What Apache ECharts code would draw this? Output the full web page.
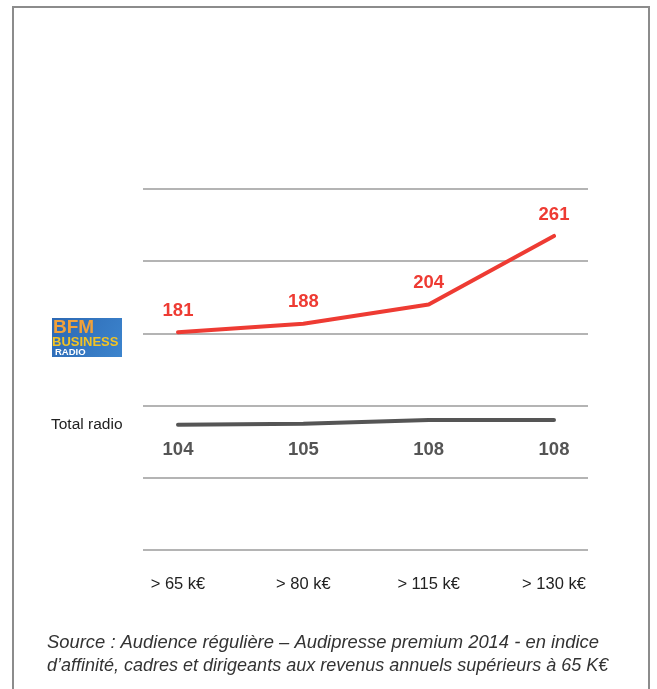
<!DOCTYPE html>
<html>
<head>
<meta charset="utf-8">
<script src="https://cdn.jsdelivr.net/npm/echarts@6/dist/echarts.min.js"></script>
<style>
  html, body { margin: 0; padding: 0; background: #ffffff; }
  #chart { width: 657px; height: 689px; }
</style>
</head>
<body>
<div id="chart"></div>
<script>
// Income brackets on the horizontal axis
const categories = ['> 65 k€', '> 80 k€', '> 115 k€', '> 130 k€'];
// Affinity index, BFM Business radio
const bfmValues = [181, 188, 204, 261];
// Affinity index, all radio stations
const totalRadioValues = [104, 105, 108, 108];
// Value axis scale (gridlines only, no tick labels drawn)
const yMin = 0;
const yMax = 300;
const yStep = 60;

const sourceLines = [
  'Source : Audience régulière – Audipresse premium 2014 - en indice',
  'd\u2019affinité, cadres et dirigeants aux revenus annuels supérieurs à 65 K€'
];

const LIGHT_FONT = '"Liberation Sans", Arial, sans-serif';
const BOLD_FONT = '"Liberation Sans", Arial, sans-serif';

const chart = echarts.init(document.getElementById('chart'), null, { renderer: 'canvas' });

function lineSeries(name, values, color, labelPos, labelDist) {
  return {
    name: name,
    type: 'line',
    xAxisIndex: 0, yAxisIndex: 0,
    data: values,
    symbol: 'circle',
    symbolSize: 2,
    showSymbol: true,
    itemStyle: { color: color },
    lineStyle: { color: color, width: 4, cap: 'round' },
    label: {
      show: true,
      position: labelPos,
      distance: labelDist,
      color: color,
      fontFamily: BOLD_FONT,
      fontWeight: 'bold',
      fontSize: 18.5
    },
    z: 3
  };
}

const totalSeries = lineSeries('Total radio', totalRadioValues, '#555555', 'bottom', 15);
// the index values of the total sit on one common row under the line
totalSeries.labelLayout = function (params) {
  return {
    x: params.rect.x + params.rect.width / 2,
    y: 450,
    align: 'center',
    verticalAlign: 'middle'
  };
};

const option = {
  backgroundColor: '#ffffff',
  animation: false,
  grid: [
    // plotting area for the two lines
    { left: 178, right: 103, top: 189, height: 361, containLabel: false },
    // wider area carrying the horizontal rules
    { left: 143, right: 69, top: 189, height: 361, containLabel: false }
  ],
  xAxis: [
    {
      gridIndex: 0,
      type: 'category',
      data: categories,
      boundaryGap: false,
      axisLine: { show: false },
      axisTick: { show: false },
      splitLine: { show: false },
      axisLabel: {
        margin: 26,
        color: '#222222',
        fontFamily: LIGHT_FONT,
        fontSize: 16.5
      }
    },
    {
      gridIndex: 1,
      type: 'category',
      data: categories,
      show: false
    }
  ],
  yAxis: [
    {
      gridIndex: 0,
      type: 'value',
      min: yMin, max: yMax, interval: yStep,
      show: false
    },
    {
      gridIndex: 1,
      type: 'value',
      min: yMin, max: yMax, interval: yStep,
      axisLine: { show: false },
      axisTick: { show: false },
      axisLabel: { show: false },
      splitLine: { show: true, lineStyle: { color: '#9b9b9b', width: 1.6 } }
    }
  ],
  series: [
    lineSeries('BFM Business', bfmValues, '#ee3b33', 'top', 11),
    totalSeries
  ],
  graphic: [
    // frame around the panel (open at the bottom)
    {
      type: 'polyline',
      shape: { points: [[13, 700], [13, 7], [649, 7], [649, 700]] },
      style: { stroke: '#8c8c8c', lineWidth: 2, fill: null },
      silent: true
    },
    // BFM Business Radio badge
    {
      type: 'group',
      left: 52, top: 318,
      children: [
        {
          type: 'rect',
          shape: { x: 0, y: 0, width: 70, height: 39 },
          style: {
            fill: new echarts.graphic.LinearGradient(0, 0, 1, 1, [
              { offset: 0, color: '#2c68b3' },
              { offset: 1, color: '#3c84cd' }
            ])
          }
        },
        {
          type: 'text', x: 1, y: 10,
          style: { text: 'BFM', fill: '#f2a13a', verticalAlign: 'middle', font: 'bold 19px "Liberation Sans", Arial, sans-serif' }
        },
        {
          type: 'text', x: 0, y: 24.5,
          style: { text: 'BUSINESS', fill: '#f3c323', verticalAlign: 'middle', font: 'bold 13px "Liberation Sans", Arial, sans-serif' }
        },
        {
          type: 'text', x: 3, y: 34.5,
          style: { text: 'RADIO', fill: '#ffffff', verticalAlign: 'middle', font: 'bold 9.5px "Liberation Sans", Arial, sans-serif' }
        }
      ]
    },
    {
      type: 'text',
      x: 51, y: 425,
      style: { text: 'Total radio', fill: '#222222', verticalAlign: 'middle', font: '15.5px ' + LIGHT_FONT }
    },
    {
      type: 'text',
      x: 47, y: 643,
      style: { text: sourceLines[0], fill: '#333333', verticalAlign: 'middle', font: 'italic 18.4px "Liberation Sans", Arial, sans-serif' }
    },
    {
      type: 'text',
      x: 47, y: 666,
      style: { text: sourceLines[1], fill: '#333333', verticalAlign: 'middle', font: 'italic 18px "Liberation Sans", Arial, sans-serif' }
    }
  ]
};

chart.setOption(option);
</script>
</body>
</html>
